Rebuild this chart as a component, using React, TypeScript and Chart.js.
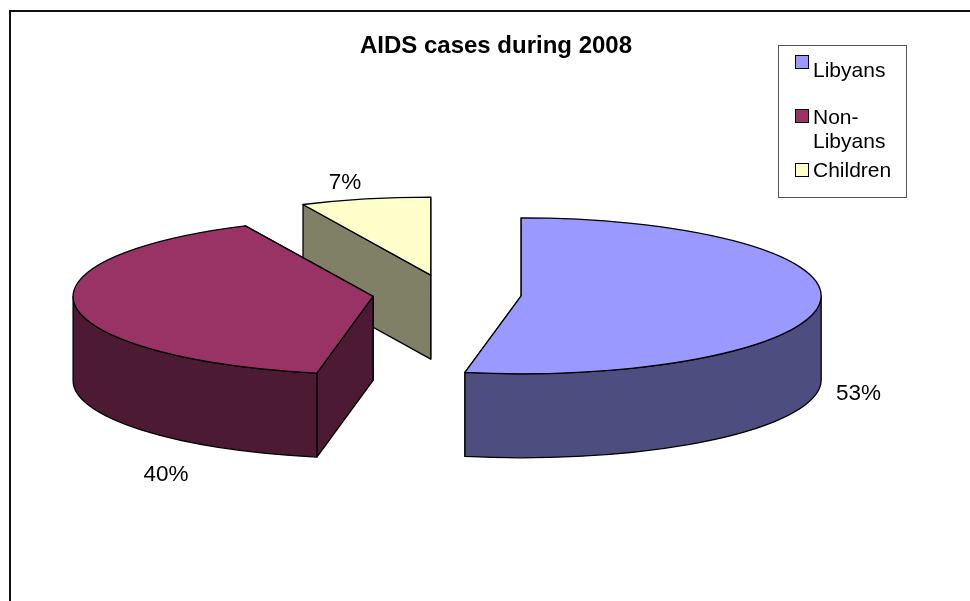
import React, { useEffect, useRef } from "react";
import { Chart, registerables } from "chart.js";

Chart.register(...registerables);

const categories = ["Libyans", "Non-Libyans", "Children"];
const shares = [53, 40, 7];
const topColors = ["#9999FF", "#993366", "#FFFFCC"];
const sideColors = ["#4D4D80", "#4D1A33", "#808066"];
const legendLines = [["Libyans"], ["Non-", "Libyans"], ["Children"]];

const SANS = '"Liberation Sans", Arial, sans-serif';
const PIE = { cx: 447, cy: 294, radius: 300, tilt: 0.26, depth: 84, explode: 74.5 };
const LABEL_POS = [
  { x: 858.5, y: 394 },
  { x: 166, y: 475 },
  { x: 345, y: 183 },
];
const LEGEND = {
  x: 778.5, y: 45.5, w: 128, h: 152, swatchX: 795.5, textX: 813, swatch: 13,
  swatchY: [55.5, 109.5, 163.5],
  baselines: [[77], [124, 148], [177]],
};

function norm(a: number) {
  const t = Math.PI * 2;
  return ((a % t) + t) % t;
}

const pie3d = {
  id: "pie3d",
  beforeDatasetDraw(chart: any) {
    const { ctx } = chart;
    const arcs = chart.getDatasetMeta(0).data as any[];
    const ry = PIE.radius * PIE.tilt;
    const order = [2, 1, 0];
    order.forEach((i) => {
      const arc = arcs[i];
      const { startAngle, endAngle, x, y, outerRadius } = arc.getProps(
        ["startAngle", "endAngle", "x", "y", "outerRadius"], true
      );
      const mid = (startAngle + endAngle) / 2;
      const ax = PIE.cx + PIE.explode * Math.cos(mid);
      const ay = PIE.cy + PIE.explode * PIE.tilt * Math.sin(mid);
      const rx = outerRadius;
      const ptX = (t: number) => ax + rx * Math.cos(t);
      const ptY = (t: number) => ay + ry * Math.sin(t);
      ctx.save();
      ctx.lineWidth = 1.3;
      ctx.strokeStyle = "#000";
      ctx.lineJoin = "round";
      ctx.fillStyle = sideColors[i];
      // radial walls, back edge first
      const edges = [startAngle, endAngle].sort((p, q) => Math.sin(p) - Math.sin(q));
      edges.forEach((t) => {
        ctx.beginPath();
        ctx.moveTo(ax, ay);
        ctx.lineTo(ptX(t), ptY(t));
        ctx.lineTo(ptX(t), ptY(t) + PIE.depth);
        ctx.lineTo(ax, ay + PIE.depth);
        ctx.closePath();
        ctx.fill();
        ctx.stroke();
      });
      // outer wall: the part of the rim on the near half of the ellipse
      const s = startAngle;
      const e = endAngle;
      let from = -1;
      let to = -1;
      const span = e - s;
      for (let k = 0; k <= 720; k++) {
        const t = s + (span * k) / 720;
        if (norm(t) <= Math.PI) {
          if (from < 0) from = t;
          to = t;
        }
      }
      if (from >= -10 && to > from && (from !== -1 || to !== -1)) {
        ctx.beginPath();
        ctx.ellipse(ax, ay, rx, ry, 0, from, to, false);
        ctx.lineTo(ptX(to), ptY(to) + PIE.depth);
        ctx.ellipse(ax, ay + PIE.depth, rx, ry, 0, to, from, true);
        ctx.closePath();
        ctx.fill();
        ctx.stroke();
      }
      // top face drawn by the library's own arc element
      ctx.save();
      ctx.translate(ax, ay);
      ctx.scale(1, PIE.tilt);
      ctx.translate(-x, -y);
      arc.draw(ctx);
      ctx.restore();
      ctx.beginPath();
      ctx.moveTo(ax, ay);
      ctx.ellipse(ax, ay, rx, ry, 0, startAngle, endAngle, false);
      ctx.closePath();
      ctx.stroke();
      ctx.restore();
    });
    return false;
  },
  afterDraw(chart: any) {
    const { ctx } = chart;
    ctx.save();
    // outer frame
    ctx.strokeStyle = "#111";
    ctx.lineWidth = 2;
    ctx.beginPath();
    ctx.moveTo(10, 601);
    ctx.lineTo(10, 11);
    ctx.lineTo(970, 11);
    ctx.stroke();
    // percentage labels
    ctx.fillStyle = "#000";
    ctx.font = `22.5px ${SANS}`;
    ctx.textAlign = "center";
    ctx.textBaseline = "middle";
    shares.forEach((v, i) => ctx.fillText(`${v}%`, LABEL_POS[i].x, LABEL_POS[i].y));
    // legend
    ctx.strokeStyle = "#555";
    ctx.lineWidth = 1;
    ctx.strokeRect(LEGEND.x, LEGEND.y, LEGEND.w, LEGEND.h);
    ctx.font = `21px ${SANS}`;
    ctx.textAlign = "left";
    ctx.textBaseline = "alphabetic";
    categories.forEach((_, i) => {
      ctx.fillStyle = topColors[i];
      ctx.fillRect(LEGEND.swatchX, LEGEND.swatchY[i], LEGEND.swatch, LEGEND.swatch);
      ctx.strokeStyle = "#000";
      ctx.strokeRect(LEGEND.swatchX, LEGEND.swatchY[i], LEGEND.swatch, LEGEND.swatch);
      ctx.fillStyle = "#000";
      legendLines[i].forEach((line, j) => ctx.fillText(line, LEGEND.textX, LEGEND.baselines[i][j]));
    });
    ctx.restore();
  },
};

export default function App() {
  const ref = useRef<HTMLCanvasElement>(null);
  useEffect(() => {
    const chart = new Chart(ref.current!, {
      type: "pie",
      data: {
        labels: categories,
        datasets: [{ data: shares, backgroundColor: topColors, borderWidth: 0 }],
      },
      options: {
        animation: false,
        responsive: false,
        radius: PIE.radius,
        layout: { padding: { left: 22, top: 32 } },
        plugins: {
          legend: { display: false },
          tooltip: { enabled: false },
          title: {
            display: true,
            text: "AIDS cases during 2008",
            color: "#000",
            font: { family: SANS, size: 24, weight: "bold" },
            padding: { top: 0, bottom: 0 },
          },
        },
      } as any,
      plugins: [pie3d],
    });
    return () => chart.destroy();
  }, []);
  return (
    <canvas
      ref={ref}
      width={970}
      height={601}
      style={{ position: "fixed", left: 0, top: 0, width: 970, height: 601, background: "#fff" }}
    />
  );
}
